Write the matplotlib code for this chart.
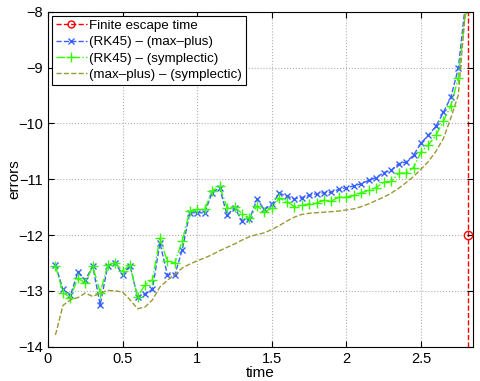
import numpy as np
import matplotlib
matplotlib.use('Agg')
import matplotlib.pyplot as plt

plt.rcParams['font.family'] = ['Liberation Sans', 'DejaVu Sans']

# time grid of the error samples
time = np.round(np.arange(1, 57) * 0.05, 2)

rk45_maxplus = [
    -12.54, -12.97, -13.08, -12.67, -12.80, -12.56, -13.25, -12.55, -12.50, -12.71,
    -12.55, -13.11, -13.05, -12.97, -12.14, -12.71, -12.71, -12.26, -11.60, -11.60,
    -11.60, -11.24, -11.15, -11.64, -11.51, -11.74, -11.72, -11.36, -11.54, -11.45,
    -11.25, -11.30, -11.35, -11.33, -11.29, -11.26, -11.24, -11.23, -11.18, -11.15,
    -11.12, -11.08, -11.02, -10.97, -10.88, -10.84, -10.72, -10.69, -10.57, -10.35,
    -10.21, -10.05, -9.80, -9.53, -9.01, -7.80]

rk45_symplectic = [
    -12.55, -13.03, -13.12, -12.77, -12.86, -12.56, -13.03, -12.54, -12.50, -12.64,
    -12.54, -13.11, -12.89, -12.80, -12.06, -12.47, -12.50, -12.10, -11.57, -11.54,
    -11.54, -11.21, -11.12, -11.51, -11.49, -11.62, -11.70, -11.48, -11.58, -11.52,
    -11.34, -11.40, -11.49, -11.47, -11.44, -11.42, -11.38, -11.39, -11.32, -11.32,
    -11.29, -11.24, -11.20, -11.15, -11.05, -11.04, -10.89, -10.89, -10.79, -10.51,
    -10.38, -10.21, -9.96, -9.68, -9.18, -7.95]

maxplus_symplectic = [
    -13.79, -13.26, -13.16, -13.12, -13.04, -13.10, -13.04, -12.99, -13.00, -13.02,
    -13.16, -13.32, -13.29, -13.16, -12.93, -12.81, -12.70, -12.59, -12.52, -12.46,
    -12.41, -12.35, -12.28, -12.22, -12.16, -12.09, -12.03, -11.99, -11.96, -11.90,
    -11.83, -11.75, -11.68, -11.63, -11.61, -11.60, -11.59, -11.58, -11.57, -11.55,
    -11.53, -11.49, -11.44, -11.38, -11.32, -11.25, -11.16, -11.06, -10.95, -10.82,
    -10.68, -10.50, -10.27, -9.90, -9.49, -7.90]

escape_time = 2.814
escape_marker = -12.0
ylims = (-14, -8)

fig = plt.figure(figsize=(4.8, 3.81), dpi=100)
ax = fig.add_axes([0.1, 0.09, 0.885, 0.879])

ax.plot([escape_time, escape_time], ylims, '--', color='red', linewidth=1.0,
        zorder=1)
ax.plot([escape_time], [escape_marker], 'o', color='red', markerfacecolor='none',
        markersize=6, markeredgewidth=1.0, zorder=5)
# legend proxy for the escape time line
ax.plot([], [], '--o', color='red', markerfacecolor='none', markersize=5,
        linewidth=1.0, label='Finite escape time')

ax.plot(time, rk45_maxplus, '--x', color='#3860ff', linewidth=1.0, markersize=5,
        markeredgewidth=1.0, label='(RK45) \u2013 (max\u2013plus)')
ax.plot(time, rk45_symplectic, '-.+', color='#33ff00', linewidth=1.0, markersize=7,
        markeredgewidth=1.0, label='(RK45) \u2013 (symplectic)')
ax.plot(time, maxplus_symplectic, '--', color='#999933', linewidth=1.0,
        label='(max\u2013plus) \u2013 (symplectic)')

ax.set_xlim(0, 2.847)
ax.set_ylim(*ylims)
ax.set_xticks([0, 0.5, 1, 1.5, 2, 2.5])
ax.set_xticklabels(['0', '0.5', '1', '1.5', '2', '2.5'])
ax.set_yticks(range(-14, -7))
ax.set_yticklabels(['\u2212%d' % abs(v) for v in range(-14, -7)])
ax.tick_params(direction='in', top=True, right=True, labelsize=10.5, length=4)
ax.grid(True, linestyle=':', color='#b0b0b0', linewidth=0.8)

ax.set_xlabel('time', fontsize=11, labelpad=0)
ax.set_ylabel('errors', fontsize=11, labelpad=-2)

leg = ax.legend(loc='upper left', fontsize=9.6, fancybox=False, framealpha=1,
                edgecolor='black', handlelength=2.3, borderpad=0.3,
                labelspacing=0.3, handletextpad=0.2, borderaxespad=0.3)
leg.get_frame().set_linewidth(0.8)

plt.savefig('out.png', dpi=100)
